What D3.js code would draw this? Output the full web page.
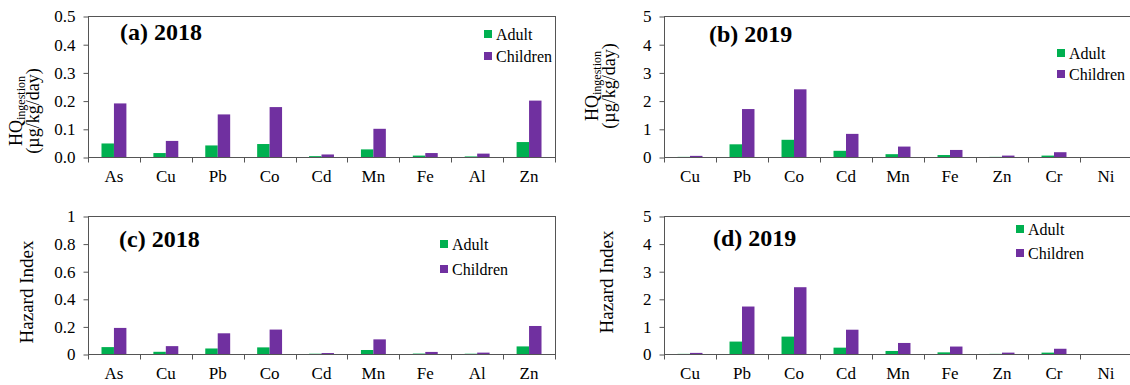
<!DOCTYPE html>
<html lang="en">
<head>
    <meta charset="UTF-8">
    <title>HQ and Hazard Index</title>
    <script src="https://cdn.jsdelivr.net/npm/d3@7"></script>
    <style>
        body { margin: 0; background: #fff; }
    </style>
</head>
<body>
<script>
    const metals2018 = ['As', 'Cu', 'Pb', 'Co', 'Cd', 'Mn', 'Fe', 'Al', 'Zn']
    const metals2019 = ['Cu', 'Pb', 'Co', 'Cd', 'Mn', 'Fe', 'Zn', 'Cr', 'Ni']
    const series = ['Adult', 'Children']

    // HQ ingestion
    const hqAdult2018 = [0.048, 0.014, 0.041, 0.046, 0.003, 0.027, 0.005, 0.002, 0.053]
    const hqChild2018 = [0.19, 0.057, 0.151, 0.177, 0.009, 0.1, 0.014, 0.012, 0.2]
    const hqAdult2019 = [0.005, 0.45, 0.61, 0.22, 0.1, 0.07, 0.005, 0.05, 0]
    const hqChild2019 = [0.04, 1.7, 2.4, 0.82, 0.37, 0.25, 0.05, 0.17, 0]
    // hazard index
    const hiAdult2018 = [0.05, 0.016, 0.04, 0.048, 0.002, 0.029, 0.003, 0.002, 0.055]
    const hiChild2018 = [0.189, 0.057, 0.15, 0.177, 0.007, 0.106, 0.015, 0.01, 0.203]
    const hiAdult2019 = [0.005, 0.45, 0.63, 0.23, 0.11, 0.06, 0.005, 0.05, 0]
    const hiChild2019 = [0.04, 1.72, 2.42, 0.88, 0.4, 0.27, 0.05, 0.19, 0]

    const ticks018 = [0, 0.1, 0.2, 0.3, 0.4, 0.5]
    const ticks01 = [0, 0.2, 0.4, 0.6, 0.8, 1]
    const ticks05 = [0, 1, 2, 3, 4, 5]

    const colors = {Adult: '#00b050', Children: '#7030a0'}
    const lineColor = '#555'
    const serif = '"Liberation Serif", "Times New Roman", serif'

    const svg = d3.select('body').append('svg')
        .attr('width', 1130)
        .attr('height', 385)
        .style('font-family', serif)

    const panels = [
        {cats: metals2018, adult: hqAdult2018, child: hqChild2018, max: 0.5, ticks: ticks018, fmt: d3.format('.1f'),
            box: [88, 16, 555, 157], title: '(a) 2018', titlePos: [120, 40], legend: [484, 34, 56],
            ytitle: 'hq', ytitlePos: [22, 39, 111]},
        {cats: metals2019, adult: hqAdult2019, child: hqChild2019, max: 5, ticks: ticks05, fmt: d3.format('d'),
            box: [664, 16, 1132, 157], title: '(b) 2019', titlePos: [709, 42], legend: [1057, 53, 74],
            ytitle: 'hq', ytitlePos: [598, 615, 86]},
        {cats: metals2018, adult: hiAdult2018, child: hiChild2018, max: 1, ticks: ticks01, fmt: d => String(d),
            box: [88, 216, 555, 354], title: '(c) 2018', titlePos: [119, 247], legend: [440, 244, 269],
            ytitle: 'hi', ytitlePos: [33, 0, 292]},
        {cats: metals2019, adult: hiAdult2019, child: hiChild2019, max: 5, ticks: ticks05, fmt: d3.format('d'),
            box: [664, 216, 1132, 354], title: '(d) 2019', titlePos: [713, 246], legend: [1016, 229, 253],
            ytitle: 'hi', ytitlePos: [613, 0, 282]}
    ]

    const drawPanel = p => {
        const [x0, y0, x1, y1] = p.box
        const g = svg.append('g')

        const x = d3.scaleBand().domain(p.cats).range([x0, x1])
        const xs = d3.scaleBand().domain(series)
            .range([x.bandwidth() * 0.26, x.bandwidth() * 0.74])
        const y = d3.scaleLinear().domain([0, p.max]).range([y1, y0])

        const rows = p.cats.map((c, i) => ({cat: c, Adult: p.adult[i], Children: p.child[i]}))

        // bars
        g.selectAll('g.grp').data(rows).enter()
            .append('g').attr('class', 'grp')
            .attr('transform', d => `translate(${x(d.cat)},0)`)
            .selectAll('rect').data(d => series.map(s => ({s, v: d[s]}))).enter()
            .append('rect')
            .attr('x', d => xs(d.s))
            .attr('width', xs.bandwidth())
            .attr('y', d => y(d.v))
            .attr('height', d => y(0) - y(d.v))
            .attr('fill', d => colors[d.s])

        // frame
        g.append('rect')
            .attr('x', x0 + 0.5).attr('y', y0 + 0.5)
            .attr('width', x1 - x0).attr('height', y1 - y0)
            .attr('fill', 'none').attr('stroke', lineColor)

        // y axis
        const yAxis = d3.axisLeft(y).tickValues(p.ticks).tickFormat(p.fmt)
            .tickSize(5).tickPadding(8)
        const ya = g.append('g')
            .attr('transform', `translate(${x0 + 0.5},0.5)`)
            .call(yAxis)
        ya.attr('font-family', null).attr('font-size', null)
        ya.select('.domain').remove()
        ya.selectAll('line').attr('stroke', lineColor)
        ya.selectAll('text').style('font-family', serif).style('font-size', '17px')

        // x ticks at band edges
        const edges = d3.range(p.cats.length + 1).map(i => x0 + i * x.step())
        g.selectAll('line.xt').data(edges).enter()
            .append('line').attr('class', 'xt')
            .attr('x1', d => Math.round(d) + 0.5).attr('x2', d => Math.round(d) + 0.5)
            .attr('y1', y1 + 0.5).attr('y2', y1 + 5.5)
            .attr('stroke', lineColor)

        g.selectAll('text.cat').data(p.cats).enter()
            .append('text').attr('class', 'cat')
            .attr('x', d => x(d) + x.bandwidth() / 2)
            .attr('y', y1 + 25)
            .attr('text-anchor', 'middle')
            .style('font-family', serif).style('font-size', '17px')
            .text(d => d)

        // panel title
        g.append('text')
            .attr('x', p.titlePos[0]).attr('y', p.titlePos[1])
            .style('font-family', serif).style('font-size', '24px').style('font-weight', 'bold')
            .text(p.title)

        // legend
        const [lx, ly1, ly2] = p.legend
        const lg = g.selectAll('g.leg').data(series).enter()
            .append('g').attr('class', 'leg')
            .attr('transform', (d, i) => `translate(${lx},${i ? ly2 : ly1})`)
        lg.append('rect').attr('x', 0).attr('y', -4).attr('width', 8).attr('height', 8)
            .attr('fill', d => colors[d])
        lg.append('text').attr('x', 12).attr('y', 5.5)
            .style('font-family', serif).style('font-size', '16px')
            .text(d => d)

        // y title
        const [tx1, tx2, ty] = p.ytitlePos
        if (p.ytitle === 'hq') {
            const t1 = g.append('text')
                .attr('transform', `translate(${tx1},${ty}) rotate(-90)`)
                .attr('text-anchor', 'middle')
                .style('font-family', serif).style('font-size', '18px')
            t1.append('tspan').text('HQ')
            t1.append('tspan').attr('dy', 3).style('font-size', '12px').text('ingestion')
            g.append('text')
                .attr('transform', `translate(${tx2},${ty}) rotate(-90)`)
                .attr('text-anchor', 'middle')
                .style('font-family', serif).style('font-size', '18px')
                .text('(µg/kg/day)')
        } else {
            g.append('text')
                .attr('transform', `translate(${tx1},${ty}) rotate(-90)`)
                .attr('text-anchor', 'middle')
                .style('font-family', serif).style('font-size', '19px')
                .text('Hazard Index')
        }
    }

    panels.forEach(drawPanel)
</script>
</body>
</html>
